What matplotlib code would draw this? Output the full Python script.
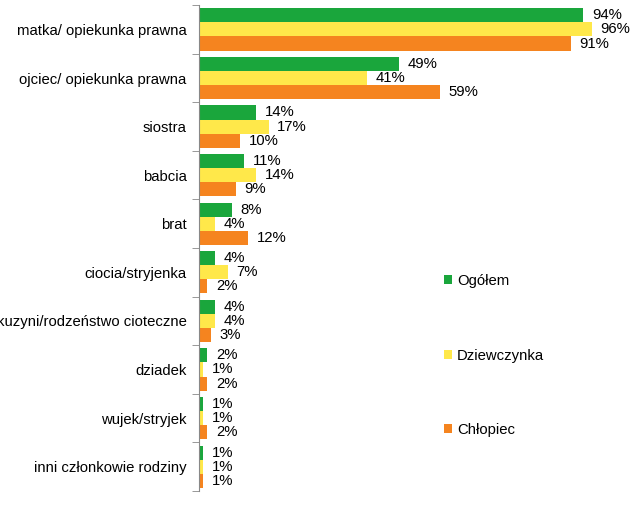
import numpy as np
import matplotlib.pyplot as plt
from matplotlib.ticker import FixedLocator

plt.rcParams['font.family'] = ['Liberation Sans', 'DejaVu Sans']
plt.rcParams['font.size'] = 10.75

categories = ['matka/ opiekunka prawna', 'ojciec/ opiekunka prawna', 'siostra', 'babcia',
              'brat', 'ciocia/stryjenka', 'kuzyni/rodzeństwo cioteczne', 'dziadek',
              'wujek/stryjek', 'inni członkowie rodziny']
ogolem = [94, 49, 14, 11, 8, 4, 4, 2, 1, 1]
dziewczynka = [96, 41, 17, 14, 4, 7, 4, 1, 1, 1]
chlopiec = [91, 59, 10, 9, 12, 2, 3, 2, 2, 1]
series = ['Ogółem', 'Dziewczynka', 'Chłopiec']
colors = ['#1aa63c', '#ffe84a', '#f5841f']

fig = plt.figure(figsize=(6.44, 5.13), dpi=100)
ax = fig.add_axes([0.309, 0.043, 0.635, 0.947])

y = np.arange(len(categories))
h = 0.29
for i, (vals, lab, c) in enumerate(zip([ogolem, dziewczynka, chlopiec], series, colors)):
    pos = y + (i - 1) * h
    ax.barh(pos, vals, height=h, color=c, label=lab, edgecolor='none')
    for p, v in zip(pos, vals):
        ax.text(v + 2.1, p, f'{v}%', va='center', ha='left')

ax.set_xlim(0, 100)
ax.set_ylim(len(categories) - 0.5, -0.5)
ax.set_yticks(y)
ax.set_yticklabels(categories)
ax.yaxis.set_minor_locator(FixedLocator(np.arange(-0.5, len(categories), 1)))
ax.tick_params(axis='y', which='major', length=0, pad=9)
ax.tick_params(axis='y', which='minor', length=5, color='#888888')
ax.set_xticks([])
for s in ['top', 'right', 'bottom']:
    ax.spines[s].set_visible(False)
ax.spines['left'].set_color('#888888')

fig.legend(loc='upper left', bbox_to_anchor=(0.669, 0.492), frameon=False,
           handlelength=0.55, handleheight=0.55, handletextpad=0.3, labelspacing=4.05)

plt.savefig('out.png', dpi=100)
